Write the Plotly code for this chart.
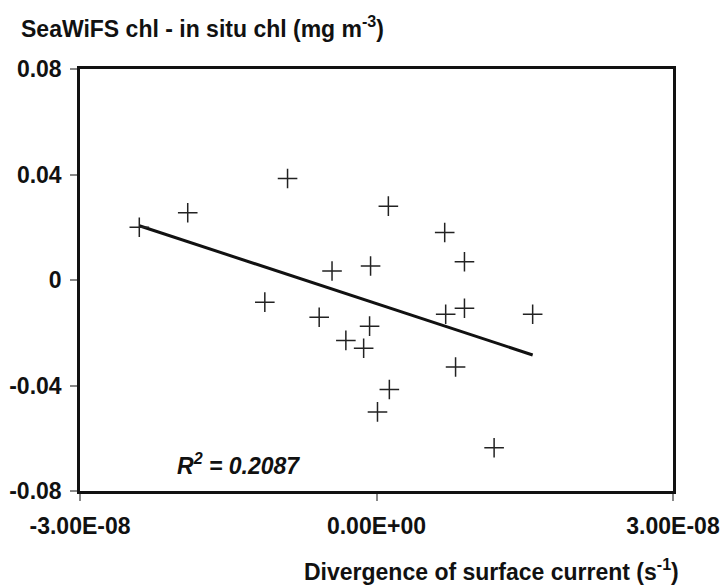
import numpy as np
import plotly.graph_objects as go

# Data (divergence in s^-1, chl difference in mg m^-3)
divergence = [-24.0e-9, -19.1e-9, -9.0e-9, -11.3e-9, -5.8e-9, -4.5e-9, -3.1e-9,
              -1.3e-9, -0.7e-9, -0.6e-9, 1.2e-9, 1.3e-9, 0.1e-9, 6.9e-9, 7.0e-9,
              8.9e-9, 8.9e-9, 8.0e-9, 11.9e-9, 15.8e-9]
chl_diff = [0.0200, 0.0255, 0.0385, -0.0084, -0.0141, 0.0034, -0.0229,
            -0.0259, -0.0175, 0.0053, 0.0280, -0.0415, -0.0500, 0.0180, -0.0130,
            0.0069, -0.0107, -0.0330, -0.0636, -0.0130]
x_tickvals = [-3e-8, 0, 3e-8]
x_ticktext = ["-3.00E-08", "0.00E+00", "3.00E-08"]
y_tickvals = [-0.08, -0.04, 0, 0.04, 0.08]
y_ticktext = ["-0.08", "-0.04", "0", "0.04", "0.08"]
r2_text = "R<sup>2</sup> = 0.2087"

xs = np.array(divergence)
ys = np.array(chl_diff)
slope, intercept = np.polyfit(xs, ys, 1)
fit_x = np.array([xs.min(), xs.max()])
fit_y = slope * fit_x + intercept

font_family = "Liberation Sans, Arial, sans-serif"
ink = "#111111"

fig = go.Figure()
fig.add_trace(go.Scatter(
    x=fit_x, y=fit_y, mode="lines",
    line=dict(color=ink, width=3), showlegend=False, hoverinfo="skip"))
fig.add_trace(go.Scatter(
    x=divergence, y=chl_diff, mode="markers",
    marker=dict(symbol="cross-thin-open", size=14, color="#222222",
                line=dict(color="#222222", width=1.5)),
    showlegend=False))

axis_common = dict(
    showline=True, linecolor=ink, linewidth=2.5, mirror=True,
    showgrid=False, zeroline=False, automargin=False,
    ticks="outside", ticklen=7, tickwidth=1.5, tickcolor="#888888",
    tickfont=dict(family=font_family, size=23, color=ink, weight="bold"),
)

fig.update_xaxes(range=[-3e-8, 3e-8], tickmode="array", tickvals=x_tickvals,
                 ticktext=x_ticktext, ticklabelstandoff=6, **axis_common)
fig.update_yaxes(range=[-0.08, 0.08], tickmode="array", tickvals=y_tickvals,
                 ticktext=y_ticktext, ticklabelstandoff=4, **axis_common)

fig.update_layout(
    width=724, height=588,
    margin=dict(l=80, r=51, t=69, b=97),
    plot_bgcolor="white", paper_bgcolor="white",
    annotations=[
        dict(text="SeaWiFS chl - in situ chl (mg m<sup>-3</sup>)",
             xref="paper", yref="paper", x=-0.1029, y=1.0995,
             xanchor="left", yanchor="middle", showarrow=False,
             font=dict(family=font_family, size=23, color=ink, weight="bold")),
        dict(text="Divergence of surface current (s<sup>-1</sup>)",
             xref="paper", yref="paper", x=1.0135, y=-0.187,
             xanchor="right", yanchor="middle", showarrow=False,
             font=dict(family=font_family, size=23, color=ink, weight="bold")),
        dict(text="<i>" + r2_text + "</i>",
             xref="paper", yref="paper", x=0.160, y=0.064,
             xanchor="left", yanchor="middle", showarrow=False,
             font=dict(family=font_family, size=23, color=ink, weight="bold")),
    ],
)

fig.write_html("out.html", config={"displayModeBar": False},
               post_script="document.body.style.margin='0';document.body.style.overflow='hidden';")
